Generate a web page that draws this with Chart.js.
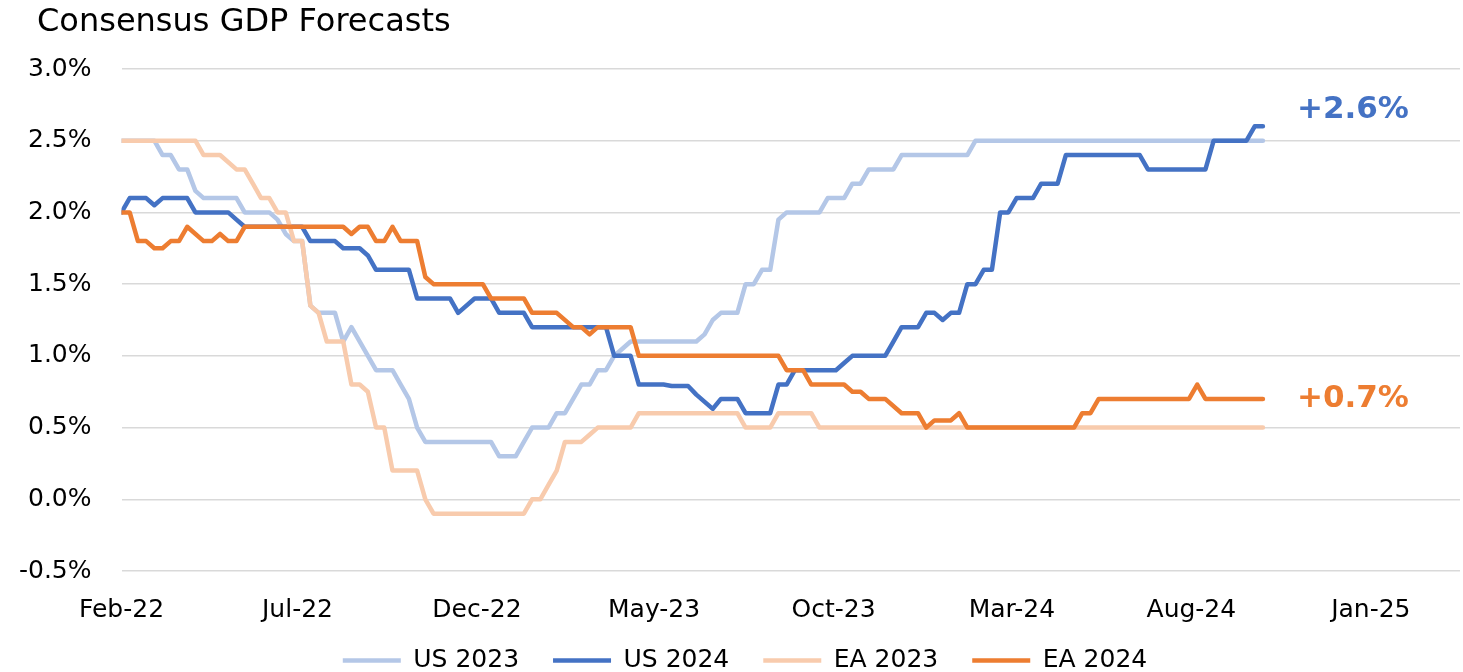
<!DOCTYPE html>
<html>
<head>
<meta charset="utf-8">
<title>Consensus GDP Forecasts</title>
<script src="https://cdn.jsdelivr.net/npm/chart.js@4.4.1/dist/chart.umd.min.js"></script>
<style>
  html, body { margin: 0; padding: 0; background: #fff; }
  canvas { display: block; }
</style>
</head>
<body>
<canvas id="gdpChart" width="1463" height="672"></canvas>
<script>
// Weekly consensus readings, x = weeks since 1 Feb 2022, y = forecast (%).
// Only the weeks where the forecast changes are listed.
const us2023 = [[0,2.5],[4,2.5],[5,2.4],[6,2.4],[7,2.3],[8,2.3],[9,2.15],[10,2.1],[14,2.1],[15,2.0],[18,2.0],[19,1.95],[20,1.85],[21,1.8],[22,1.8],[23,1.35],[24,1.3],[26,1.3],[27,1.1],[28,1.2],[31,0.9],[33,0.9],[34,0.8],[35,0.7],[36,0.5],[37,0.4],[45,0.4],[46,0.3],[48,0.3],[49,0.4],[50,0.5],[52,0.5],[53,0.6],[54,0.6],[55,0.7],[56,0.8],[57,0.8],[58,0.9],[59,0.9],[60,1.0],[61,1.05],[62,1.1],[70,1.1],[71,1.15],[72,1.25],[73,1.3],[75,1.3],[76,1.5],[77,1.5],[78,1.6],[79,1.6],[80,1.95],[81,2.0],[85,2.0],[86,2.1],[88,2.1],[89,2.2],[90,2.2],[91,2.3],[94,2.3],[95,2.4],[103,2.4],[104,2.5],[139,2.5]];

const us2024 = [[0,2.0],[1,2.1],[3,2.1],[4,2.05],[5,2.1],[8,2.1],[9,2.0],[13,2.0],[14,1.95],[15,1.9],[22,1.9],[23,1.8],[26,1.8],[27,1.75],[29,1.75],[30,1.7],[31,1.6],[35,1.6],[36,1.4],[40,1.4],[41,1.3],[43,1.4],[45,1.4],[46,1.3],[49,1.3],[50,1.2],[59,1.2],[60,1.0],[62,1.0],[63,0.8],[66,0.8],[67,0.79],[69,0.79],[70,0.73],[72,0.63],[73,0.7],[75,0.7],[76,0.6],[79,0.6],[80,0.8],[81,0.8],[82,0.9],[87,0.9],[88,0.95],[89,1.0],[93,1.0],[94,1.1],[95,1.2],[97,1.2],[98,1.3],[99,1.3],[100,1.25],[101,1.3],[102,1.3],[103,1.5],[104,1.5],[105,1.6],[106,1.6],[107,2.0],[108,2.0],[109,2.1],[111,2.1],[112,2.2],[114,2.2],[115,2.4],[124,2.4],[125,2.3],[132,2.3],[133,2.5],[137,2.5],[138,2.6],[139,2.6]];

const ea2023 = [[0,2.5],[9,2.5],[10,2.4],[12,2.4],[14,2.3],[15,2.3],[16,2.2],[17,2.1],[18,2.1],[19,2.0],[20,2.0],[21,1.8],[22,1.8],[23,1.35],[24,1.3],[25,1.1],[27,1.1],[28,0.8],[29,0.8],[30,0.75],[31,0.5],[32,0.5],[33,0.2],[36,0.2],[37,0.0],[38,-0.1],[49,-0.1],[50,0.0],[51,0.0],[52,0.1],[53,0.2],[54,0.4],[56,0.4],[57,0.45],[58,0.5],[62,0.5],[63,0.6],[75,0.6],[76,0.5],[79,0.5],[80,0.6],[84,0.6],[85,0.5],[139,0.5]];

const ea2024 = [[0,2.0],[1,2.0],[2,1.8],[3,1.8],[4,1.75],[5,1.75],[6,1.8],[7,1.8],[8,1.9],[10,1.8],[11,1.8],[12,1.85],[13,1.8],[14,1.8],[15,1.9],[27,1.9],[28,1.85],[29,1.9],[30,1.9],[31,1.8],[32,1.8],[33,1.9],[34,1.8],[36,1.8],[37,1.55],[38,1.5],[44,1.5],[45,1.4],[49,1.4],[50,1.3],[53,1.3],[55,1.2],[56,1.2],[57,1.15],[58,1.2],[62,1.2],[63,1.0],[80,1.0],[81,0.9],[83,0.9],[84,0.8],[88,0.8],[89,0.75],[90,0.75],[91,0.7],[93,0.7],[95,0.6],[97,0.6],[98,0.5],[99,0.55],[101,0.55],[102,0.6],[103,0.5],[116,0.5],[117,0.6],[118,0.6],[119,0.7],[130,0.7],[131,0.8],[132,0.7],[139,0.7]];

const seriesNames = ['US 2023', 'US 2024', 'EA 2023', 'EA 2024'];
const seriesColors = ['#b4c7e7', '#4472c4', '#f8cbad', '#ed7d31'];

const tickDates = ['2022-02-01', '2022-07-01', '2022-12-01', '2023-05-01', '2023-10-01', '2024-03-01', '2024-08-01', '2025-01-01'];
const tickLabels = ['Feb-22', 'Jul-22', 'Dec-22', 'May-23', 'Oct-23', 'Mar-24', 'Aug-24', 'Jan-25'];
const yTicks = [-0.5, 0, 0.5, 1.0, 1.5, 2.0, 2.5, 3.0];

const FONT = "'DejaVu Sans', 'Liberation Sans', sans-serif";
const startDay = Date.parse('2022-02-01');
const toWeeks = d => (Date.parse(d) - startDay) / (7 * 86400000);
const toXY = arr => arr.map(([x, y]) => ({ x, y }));

const allSeries = [us2023, us2024, ea2023, ea2024];

const datasets = allSeries.map((s, i) => ({
    label: seriesNames[i],
    data: toXY(s),
    borderColor: seriesColors[i],
    backgroundColor: seriesColors[i],
    borderWidth: 4.5,
    borderCapStyle: 'round',
    borderJoinStyle: 'round',
    pointRadius: 0,
    pointHoverRadius: 0,
    tension: 0,
    order: 4 - i   // later series drawn on top, like the original
}));

// title + end-of-line value labels, and nudge the legend into place
const annotate = {
    id: 'annotate',
    afterLayout(chart) {
        const lg = chart.legend;
        lg.left = 30;
        lg.top -= 17;
        lg.bottom -= 17;
    },
    afterDraw(chart) {
        const { ctx, scales: { x, y } } = chart;
        ctx.save();
        ctx.fillStyle = '#000';
        ctx.font = "32px " + FONT;
        ctx.textAlign = 'left';
        ctx.textBaseline = 'middle';
        ctx.fillText('Consensus GDP Forecasts', 37, 23);

        const ends = [{ s: us2024, color: seriesColors[1], dy: -16 }, { s: ea2024, color: seriesColors[3], dy: 0 }];
        ctx.font = "bold 31px " + FONT;
        ends.forEach(e => {
            const last = e.s[e.s.length - 1];
            ctx.fillStyle = e.color;
            ctx.fillText('+' + last[1].toFixed(1) + '%', x.getPixelForValue(last[0]) + 34, y.getPixelForValue(last[1]) + e.dy);
        });
        ctx.restore();
    }
};

new Chart(document.getElementById('gdpChart'), {
    type: 'line',
    data: { datasets },
    options: {
        responsive: false,
        animation: false,
        devicePixelRatio: 1,
        layout: { padding: { top: 69, left: 0, right: 3, bottom: -28 } },
        plugins: {
            title: { display: false },
            tooltip: { enabled: false },
            legend: {
                position: 'bottom',
                labels: {
                    usePointStyle: true,
                    pointStyle: 'line',
                    pointStyleWidth: 58,
                    padding: 34,
                    color: '#000',
                    font: { family: FONT, size: 25 },
                    sort: (a, b) => a.datasetIndex - b.datasetIndex
                }
            }
        },
        scales: {
            x: {
                type: 'linear',
                min: 0,
                max: 163,
                grid: { display: false, drawTicks: false },
                border: { display: false },
                afterBuildTicks: scale => { scale.ticks = tickDates.map(d => ({ value: toWeeks(d) })); },
                afterFit: scale => { scale.height = 60; },
                ticks: {
                    autoSkip: false,
                    maxRotation: 0,
                    padding: 24,
                    color: '#000',
                    font: { family: FONT, size: 25 },
                    callback: (v, i) => tickLabels[i]
                }
            },
            y: {
                min: -0.5,
                max: 3.0,
                grid: { color: '#d9d9d9', lineWidth: 1.5, drawTicks: false },
                border: { display: false },
                afterBuildTicks: scale => { scale.ticks = yTicks.map(v => ({ value: v })); },
                afterFit: scale => { scale.width = 121.5; },
                ticks: {
                    padding: 30,
                    color: '#000',
                    font: { family: FONT, size: 25 },
                    callback: v => v.toFixed(1) + '%'
                }
            }
        }
    },
    plugins: [annotate]
});
</script>
</body>
</html>
